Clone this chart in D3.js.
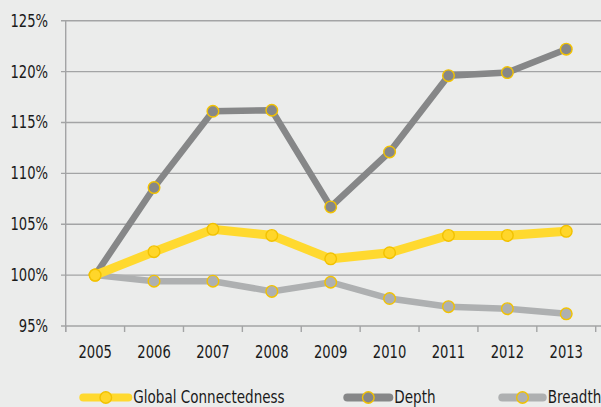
<!DOCTYPE html>
<html>
<head>
<meta charset="utf-8">
<script src="https://cdn.jsdelivr.net/npm/d3@7"></script>
<style>
  html, body { margin: 0; padding: 0; background: #ebeceb; }
  svg { display: block; }
  text { font-family: "Liberation Sans Narrow", "DejaVu Sans Condensed", "DejaVu Sans", sans-serif; fill: #1a1a1a; }
</style>
</head>
<body>
<svg id="chart" width="601" height="407"></svg>
<script>
const years = ["2005","2006","2007","2008","2009","2010","2011","2012","2013"];
const globalConnectedness = [100, 102.3, 104.5, 103.9, 101.6, 102.2, 103.9, 103.9, 104.3];
const depth = [100, 108.6, 116.1, 116.2, 106.7, 112.1, 119.6, 119.9, 122.2];
const breadth = [100, 99.4, 99.4, 98.4, 99.3, 97.7, 96.9, 96.7, 96.2];
const yTicks = [95, 100, 105, 110, 115, 120, 125];
const seriesNames = ["Global Connectedness", "Depth", "Breadth"];

const W = 601, H = 407;
const SX = 0.86;
const svg = d3.select("#chart");
svg.append("rect").attr("width", W).attr("height", H).attr("fill", "#ebeceb");

const x = d3.scaleBand().domain(years).range([65.7, 595.7]).padding(0);
const cx = d => x(d) + x.bandwidth() / 2;
const y = d3.scaleLinear().domain([95, 125]).range([326, 20.7]);

// gridlines + y labels
const gy = svg.append("g");
gy.selectAll("line").data(yTicks).join("line")
  .attr("x1", 61).attr("x2", W)
  .attr("y1", d => y(d)).attr("y2", d => y(d))
  .attr("stroke", "#a3a4a5").attr("stroke-width", 1.4);
gy.selectAll("text").data(yTicks).join("text")
  .attr("transform", d => `translate(48,${y(d) + 6}) scale(${SX},1)`)
  .attr("text-anchor", "end").attr("font-size", 17)
  .text(d => d + "%");

// y axis line
svg.append("line").attr("x1", 65.7).attr("x2", 65.7)
  .attr("y1", y(125)).attr("y2", y(95) + 6)
  .attr("stroke", "#a3a4a5").attr("stroke-width", 1.4);

// x tick marks at band boundaries
const bounds = years.map(d => x(d)).concat([x(years[years.length - 1]) + x.bandwidth()]);
svg.append("g").selectAll("line").data(bounds).join("line")
  .attr("x1", d => d).attr("x2", d => d)
  .attr("y1", y(95)).attr("y2", y(95) + 6)
  .attr("stroke", "#a3a4a5").attr("stroke-width", 1.4);

// x labels
svg.append("g").selectAll("text").data(years).join("text")
  .attr("transform", d => `translate(${cx(d)},358.3) scale(${SX},1)`)
  .attr("text-anchor", "middle").attr("font-size", 17)
  .text(d => d);

const series = [
  { name: seriesNames[2], values: breadth, color: "#aeb0b1", width: 6.5, fill: "#aeb0b1" },
  { name: seriesNames[1], values: depth, color: "#868788", width: 6.5, fill: "#868788" },
  { name: seriesNames[0], values: globalConnectedness, color: "#ffd92f", width: 9, fill: "#ffd62a" }
];
const markerStroke = "#f2c200";

const line = d3.line().x((v, i) => cx(years[i])).y(v => y(v));

series.forEach(s => {
  const g = svg.append("g");
  g.append("path").datum(s.values).attr("d", line)
    .attr("fill", "none").attr("stroke", s.color)
    .attr("stroke-width", s.width).attr("stroke-linejoin", "miter");
  g.selectAll("circle").data(s.values).join("circle")
    .attr("cx", (v, i) => cx(years[i])).attr("cy", v => y(v))
    .attr("r", 5.8).attr("fill", s.fill)
    .attr("stroke", markerStroke).attr("stroke-width", 1.4);
});

// legend
const legendItems = [
  { s: series[2], x1: 83.3, x2: 128.3 },
  { s: series[1], x1: 347.3, x2: 389.3 },
  { s: series[0], x1: 502.3, x2: 542.7 }
];
const ly = 397.5;
legendItems.forEach(it => {
  const g = svg.append("g");
  g.append("line").attr("x1", it.x1).attr("x2", it.x2).attr("y1", ly).attr("y2", ly)
    .attr("stroke", it.s.color).attr("stroke-width", 8).attr("stroke-linecap", "round");
  g.append("circle").attr("cx", (it.x1 + it.x2) / 2).attr("cy", ly).attr("r", 5.8)
    .attr("fill", it.s.fill).attr("stroke", markerStroke).attr("stroke-width", 1.4);
  g.append("text").attr("transform", `translate(${it.x2 + 5},403.3) scale(${SX},1)`)
    .attr("font-size", 17.5).text(it.s.name);
});
</script>
</body>
</html>
